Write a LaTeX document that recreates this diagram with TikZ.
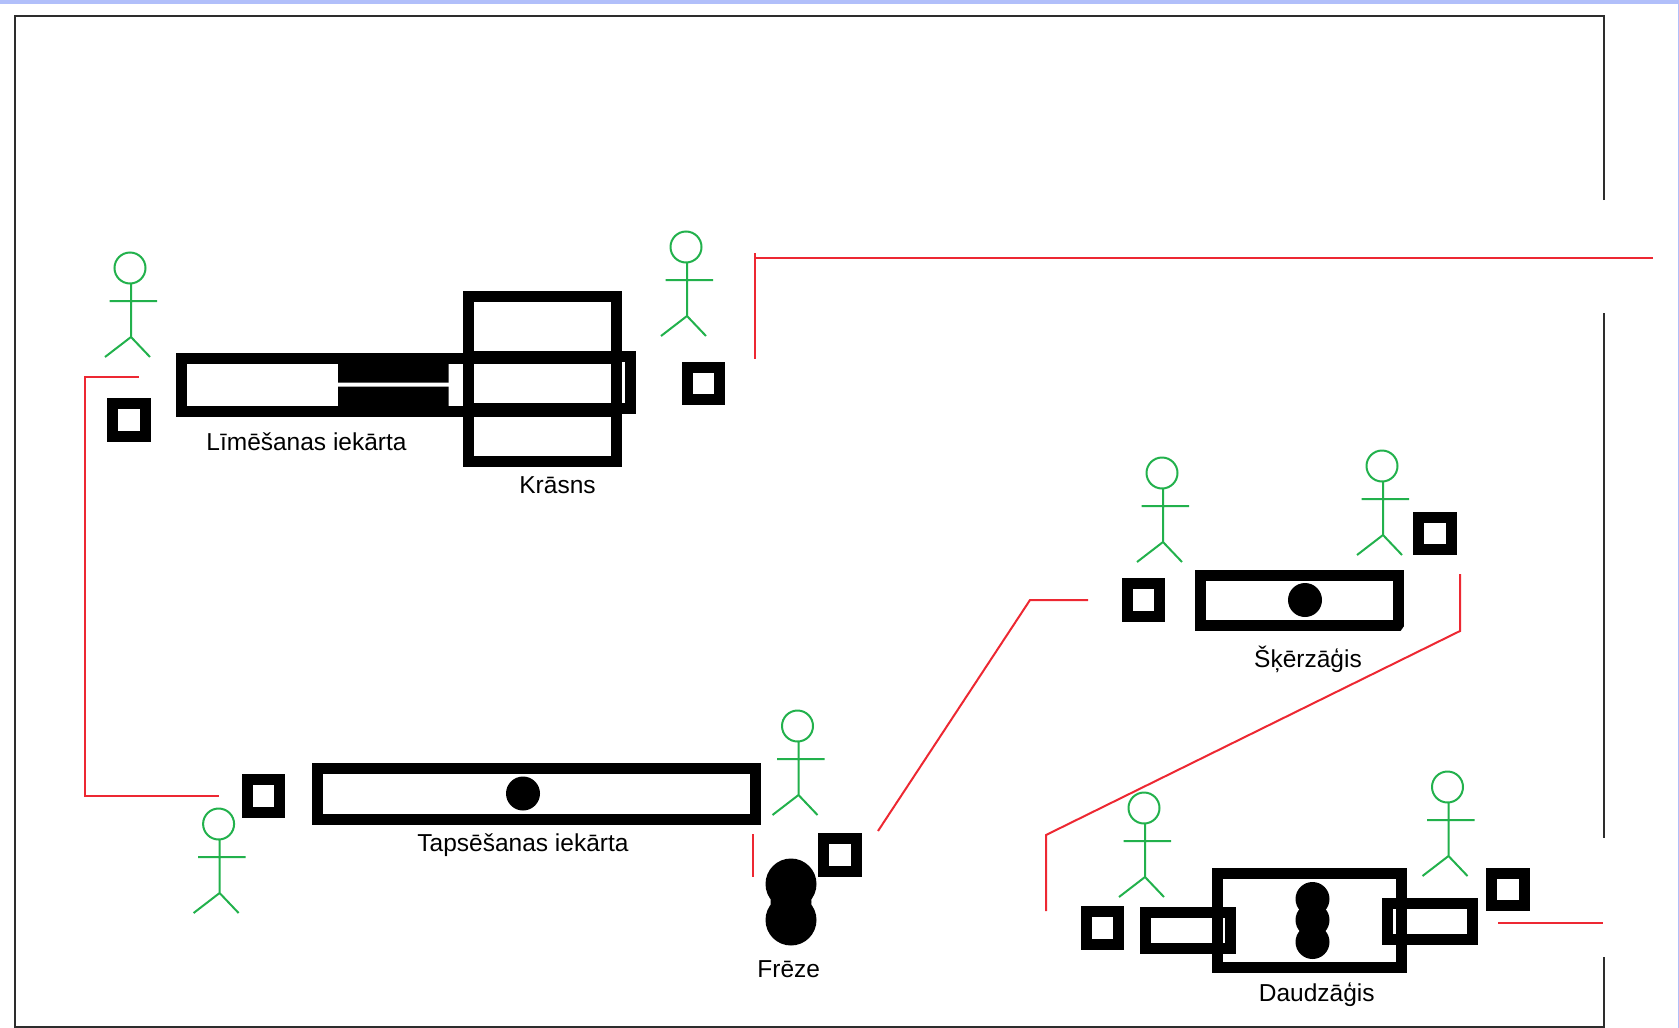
\documentclass[tikz,border=0pt]{standalone}
\usepackage{fontspec}
\setmainfont{Liberation Sans}
\definecolor{band}{RGB}{177,191,250}
\definecolor{flow}{RGB}{237,40,50}
\definecolor{worker}{RGB}{34,177,76}
\definecolor{hall}{RGB}{45,45,45}
\tikzset{
  wall/.style={draw, line width=11pt, inner sep=0pt},
  stand/.style={wall, minimum size=32.5pt},
  disc/.style={circle, fill=black, inner sep=0pt, minimum size=#1},
  machinename/.style={inner sep=0pt, font=\fontsize{24.5}{28}\selectfont},
  flowline/.style={draw=flow, line width=2pt},
  person/.pic={
    \draw[worker, line width=2pt] (0,0) circle (15.5pt);
    \draw[worker, line width=2pt] (1,15.5) -- (1,69) (-20.5,33) -- (27,33) (-25,89) -- (1,69) -- (20,89);
  }
}
\begin{document}
\begin{tikzpicture}[x=1pt, y=-1pt]
  \useasboundingbox (0,0) rectangle (1679,1028);
  \fill[band] (0,0) rectangle (1679,4);
  \fill[band] (1678,0) rectangle (1679,1028);
  % hall
  \draw[hall, line width=2pt] (1604,200) -- (1604,16) -- (15,16) -- (15,1027) -- (1604,1027) -- (1604,957);
  \draw[hall, line width=2pt] (1604,313) -- (1604,838);
  % flow
  \path[flowline] (755,253) -- (755,359);
  \path[flowline] (755,258) -- (1653,258);
  \path[flowline] (138.5,377) -- (85,377) -- (85,796) -- (219,796);
  \path[flowline] (753,834) -- (753,877);
  \path[flowline] (878,831) -- (1030,600) -- (1088,600);
  \path[flowline] (1460,574) -- (1460,631) -- (1046,835) -- (1046,911);
  \path[flowline] (1498,923) -- (1603,923);
  % machines
  \node[wall, minimum width=435pt, minimum height=52.5pt] (gluer) at (398.5,384.75) {};
  \fill (338,360) rectangle (448.6,382.7) (338,386.7) rectangle (448.6,410);
  \node[wall, minimum width=162.5pt, minimum height=52pt] (belt) at (549.25,382.5) {};
  \node[wall, minimum width=148pt, minimum height=164.4pt] (oven) at (542.5,378.8) {};
  \node[wall, minimum width=437.7pt, minimum height=50.5pt] (press) at (536.65,793.75) {};
  \node[disc=34pt] (pressdot) at (523,793.5) {};
  \node[disc=51pt] (cutterA) at (791,884) {};
  \node[disc=51pt] (cutterB) at (791,920) {};
  \node[disc=41pt] (cutterC) at (791,902) {};
  \node[wall, minimum width=198.5pt, minimum height=50.2pt] (shears) at (1299.5,600.1) {};
  \fill[white] (1405,625) -- (1405,632) -- (1400,632) -- cycle;
  \node[disc=34pt] (shearsdot) at (1305,600) {};
  \node[wall, minimum width=183.5pt, minimum height=93.7pt] (multi) at (1309.25,920.15) {};
  \node[wall, minimum width=84.6pt, minimum height=36.3pt] (tubeL) at (1187.7,930.35) {};
  \node[wall, minimum width=85pt, minimum height=36.4pt] (tubeR) at (1429.5,921.5) {};
  \node[disc=34pt] (sawA) at (1312.5,899) {};
  \node[disc=34pt] (sawB) at (1312.5,920) {};
  \node[disc=34pt] (sawC) at (1312.5,942) {};
  % stands
  \node[stand] (standA) at (129,420) {};
  \node[stand] (standB) at (703.5,383.5) {};
  \node[stand] (standC) at (263.5,796) {};
  \node[stand] (standD) at (840,855) {};
  \node[stand] (standE) at (1143.5,600) {};
  \node[stand] (standF) at (1435,533.5) {};
  \node[stand] (standG) at (1102.5,928) {};
  \node[stand] (standH) at (1508,889.5) {};
  % workers
  \foreach \wx/\wy in {130/268, 686/247, 218.6/824, 797.5/726, 1162/473, 1382/466, 1144/808, 1447.5/787}
    \pic at (\wx,\wy) {person};
  % names
  \node[machinename] (nameA) at (306.5,442) {Līmēšanas iekārta};
  \node[machinename] (nameB) at (557.5,485) {Krāsns};
  \node[machinename] (nameC) at (523,845) {Tapsēšanas iekārta};
  \node[machinename] (nameD) at (788.7,969) {Frēze};
  \node[machinename] (nameE) at (1308,659) {Šķērzāģis};
  \node[machinename] (nameF) at (1316.7,995) {Daudzāģis};
\end{tikzpicture}
\end{document}
